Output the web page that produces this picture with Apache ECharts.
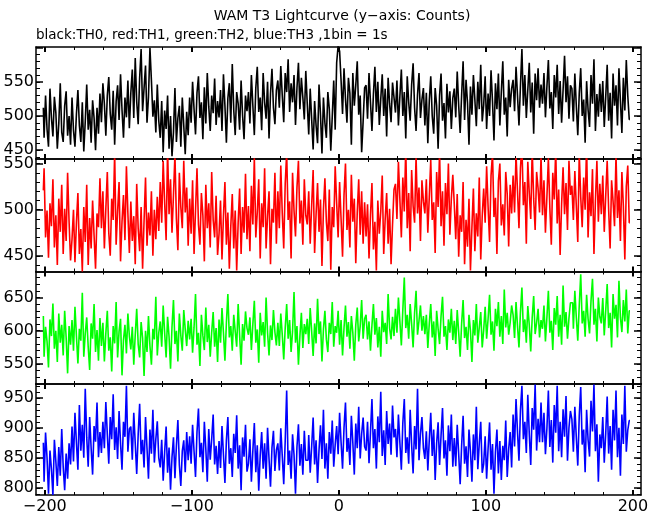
<!DOCTYPE html>
<html><head><meta charset="utf-8">
<script src="https://cdn.jsdelivr.net/npm/echarts@6/dist/echarts.min.js"></script>
<style>html,body{margin:0;padding:0;background:#fff}#c{width:660px;height:515px}</style>
</head><body><div id="c"></div>
<script>
// time bins: 1 bin = 1 s
const binStart = -201;
const binSize = 1;

// TH0 (black) counts per bin
const th0 = [
512,468,530,481,455,540,497,470,528,505,452,489,548,476,462,515,536,471,500,458,
527,479,455,503,538,486,462,520,448,492,546,480,509,461,523,497,450,512,474,533,
491,548,518,471,530,557,503,480,537,458,521,545,494,561,509,468,527,498,552,482,
534,568,497,585,521,488,556,598,507,541,574,490,528,600,552,499,523,476,546,493,
468,522,447,508,481,530,452,500,441,476,541,462,497,515,455,527,486,444,506,472,
527,490,550,510,473,534,558,497,520,466,542,489,563,514,478,530,504,555,487,522,
498,538,478,561,515,461,526,548,490,576,509,472,535,518,480,552,501,466,530,507,
535,489,560,515,472,541,572,506,527,479,563,520,496,550,467,533,569,512,488,538,
552,512,573,530,491,563,535,583,506,548,520,560,487,541,578,510,556,527,495,566,
518,473,540,495,451,522,486,460,546,502,445,527,490,468,535,510,449,499,552,480,
578,603,595,552,503,570,525,490,556,533,458,563,515,545,580,502,530,447,492,541,
545,496,563,520,478,532,572,506,550,487,525,561,500,540,470,556,518,491,549,527,
505,552,486,529,568,500,535,467,558,520,493,546,577,512,478,531,563,497,524,541,
486,534,460,522,558,500,474,541,515,452,530,562,493,519,467,547,505,536,481,526,
540,498,565,515,475,531,580,494,553,519,458,543,502,560,524,485,550,510,575,492,
516,558,481,533,500,567,521,464,548,510,562,486,535,580,502,527,470,553,513,540,
553,507,572,530,486,544,598,515,560,497,538,578,505,549,474,562,523,570,512,546,
518,563,498,543,582,511,535,481,560,527,575,503,551,490,538,588,520,558,496,545,
540,492,562,515,472,533,570,500,524,461,551,509,484,560,518,583,478,532,499,547,
506,551,484,528,575,493,534,467,562,515,545,486,570,522,475,556,508,582,530,495
];

// TH1 (red) counts per bin
const th1 = [
521,545,470,499,448,507,482,533,459,494,440,512,476,527,452,501,466,540,487,445,
468,500,443,486,518,452,479,433,503,465,527,440,491,458,510,472,436,496,481,534,
480,520,458,501,541,475,450,512,489,562,462,498,530,444,487,516,467,547,496,453,
509,466,493,441,528,480,455,503,436,488,535,461,497,472,520,450,500,468,514,477,
530,486,553,508,467,566,495,533,475,516,560,490,456,540,503,480,553,497,524,461,
512,474,532,452,499,545,484,462,518,494,444,527,480,507,459,541,489,470,515,451,
474,510,446,493,530,462,497,436,482,517,458,499,434,486,523,452,503,475,539,468,
504,455,526,484,557,470,497,533,447,507,481,545,458,493,520,441,501,486,540,463,
520,480,548,496,458,528,562,489,509,447,540,499,471,524,553,485,510,462,533,494,
484,520,463,505,543,453,495,529,476,511,439,500,534,487,466,522,435,503,481,547,
507,470,530,490,449,516,550,478,500,459,538,487,512,442,497,533,473,520,463,508,
471,506,447,494,529,457,487,434,510,474,498,537,452,490,518,463,501,441,484,522,
528,490,552,511,470,535,498,568,480,518,455,543,504,486,558,496,524,466,532,509,
496,533,475,514,554,489,508,453,541,503,563,482,520,461,529,495,550,473,512,538,
506,468,517,449,494,476,530,441,489,460,512,434,481,523,455,496,471,535,446,493,
523,486,547,503,465,537,561,492,513,452,531,550,483,506,472,541,517,460,527,496,
537,497,560,520,480,545,570,505,530,463,552,518,490,565,512,478,541,523,497,558,
494,532,475,514,556,502,462,540,511,566,485,522,451,506,546,495,529,478,553,516,
526,489,542,504,465,561,514,481,535,500,572,470,519,493,544,452,510,553,487,528,
495,537,476,515,553,500,458,532,509,482,560,491,521,466,541,504,446,525,548,486
];

// TH2 (green) counts per bin
const th2 = [
622,561,606,584,545,617,592,641,573,600,553,626,582,609,563,630,590,536,607,579,
616,570,636,592,551,603,585,657,561,596,620,576,541,611,588,640,568,601,555,619,
577,612,554,596,630,570,590,539,607,581,643,560,599,618,533,586,609,566,626,592,
572,606,549,594,633,580,560,613,589,532,600,568,622,577,549,603,587,651,563,597,
614,576,638,597,560,621,591,543,606,646,580,600,554,626,593,570,631,602,577,615,
587,618,567,605,655,579,597,547,624,593,571,635,583,609,561,598,628,576,604,553,
617,582,634,597,555,612,655,590,607,570,624,599,576,640,593,549,610,585,629,604,
594,620,571,610,645,582,602,552,627,593,613,576,650,597,563,608,586,631,598,578,
612,577,626,594,557,604,640,588,616,568,599,658,582,607,549,592,627,574,610,595,
618,580,634,599,562,611,581,648,595,614,554,602,630,587,568,612,595,643,576,607,
597,630,579,616,563,604,638,591,613,573,622,597,555,609,635,584,607,646,588,618,
624,587,614,570,608,640,594,619,575,606,561,630,598,612,580,655,604,587,621,592,
633,597,650,614,578,631,680,604,624,588,640,610,575,627,660,594,615,638,600,622,
595,624,574,611,640,590,614,562,630,603,580,622,651,591,607,571,617,597,633,586,
615,580,631,597,561,611,646,589,606,571,624,600,553,616,593,640,582,605,628,575,
601,636,588,618,654,594,614,570,633,607,643,591,622,580,662,605,627,594,612,638,
624,589,643,607,575,628,665,598,617,582,637,609,569,620,652,595,612,633,590,616,
603,638,584,620,660,597,615,571,634,609,652,591,624,579,668,606,628,588,619,642,
642,603,660,620,585,638,685,611,630,591,654,618,596,645,678,609,633,584,650,621,
611,649,593,630,670,604,627,575,655,618,639,590,675,620,598,646,614,662,596,630
];

// TH3 (blue) counts per bin
const th3 = [
875,810,892,850,790,862,831,788,880,844,803,868,820,898,835,796,857,815,874,839,
902,844,925,875,830,938,862,905,850,965,884,835,918,866,822,903,877,942,851,893,
858,910,866,943,889,840,918,881,956,863,901,848,928,874,830,910,885,970,860,898,
902,847,925,874,823,889,940,856,880,834,918,866,815,897,857,930,842,881,911,850,
834,880,812,859,902,825,867,797,851,884,816,870,913,838,803,861,879,826,893,846,
886,840,905,861,818,893,932,851,875,826,910,865,810,898,847,881,922,839,870,823,
878,833,903,855,808,879,918,840,866,818,890,858,921,832,871,796,884,852,905,827,
840,881,810,862,908,826,871,795,854,893,832,874,815,900,848,802,867,895,828,863,
874,829,899,853,806,878,962,838,862,815,889,855,790,868,906,837,873,822,895,846,
846,888,825,869,917,839,879,808,863,904,848,930,832,874,815,893,857,912,835,872,
903,856,925,876,832,900,942,860,883,838,920,875,822,907,866,935,849,890,917,869,
862,910,841,892,948,866,898,832,919,876,960,853,896,838,928,873,907,855,937,884,
898,851,922,875,830,908,948,858,884,840,930,871,824,903,864,965,846,890,918,866,
848,894,829,880,925,853,897,813,874,909,838,887,933,849,879,820,904,861,922,835,
883,836,905,856,806,871,920,840,869,818,897,860,810,889,846,935,831,874,910,825,
840,886,815,866,909,830,873,790,860,897,824,878,813,870,846,912,818,864,893,834,
922,869,948,893,845,929,970,881,910,858,955,890,838,933,897,972,862,915,876,942,
876,925,856,899,962,868,913,842,938,892,970,861,910,851,931,885,953,845,900,928,
914,860,935,884,837,920,968,872,897,826,930,880,852,945,894,972,861,906,810,889,
866,918,842,890,952,857,903,830,930,879,962,851,900,820,922,873,970,860,896,912
];

// tick labels
const xTickLabels = [-200, -100, 0, 100, 200];
const yTickLabels0 = [450, 500, 550];
const yTickLabels1 = [450, 500, 550];
const yTickLabels2 = [550, 600, 650];
const yTickLabels3 = [800, 850, 900, 950];

const titleText = 'WAM T3 Lightcurve (y\u2212axis: Counts)';
const subText = 'black:TH0, red:TH1, green:TH2, blue:TH3 ,1bin = 1s';

// ---- layout / styling ----
const FONT = 'DejaVu Sans';
const X_MIN = -206, X_MAX = 205.5;
const panels = [
  { data: th0, color: '#000000', range: [437, 601], labels: yTickLabels0, top: 47, height: 112 },
  { data: th1, color: '#ff0000', range: [433, 555], labels: yTickLabels1, top: 159, height: 112.5 },
  { data: th2, color: '#00ff00', range: [520, 689], labels: yTickLabels2, top: 271.5, height: 112.5 },
  { data: th3, color: '#0000ff', range: [788, 973], labels: yTickLabels3, top: 384, height: 112 }
];
function stepValues(lo, hi, step) {
  const out = [];
  for (let v = Math.ceil(lo / step) * step; v <= hi; v += step) out.push(v);
  return out;
}
const xMajor = stepValues(X_MIN, X_MAX, 100);
const xMinor = stepValues(X_MIN, X_MAX, 20);
const minus = v => String(v).replace('-', '\u2212');

const grids = [], xAxes = [], yAxes = [], series = [];
panels.forEach((p, i) => {
  grids.push({ left: 36, right: 19, top: p.top, height: p.height, containLabel: false });
  const xBase = {
    gridIndex: i, type: 'value', min: X_MIN, max: X_MAX,
    splitLine: { show: false }, axisLabel: { show: false },
    axisLine: { show: false, onZero: false }, axisTick: { show: false }
  };
  const axisLineStyle = { show: true, onZero: false, lineStyle: { color: '#000', width: 1.5 } };
  xAxes.push(Object.assign({}, xBase, {
    position: 'bottom', axisLine: axisLineStyle,
    axisTick: { show: true, inside: true, length: 5, lineStyle: { color: '#000', width: 2 }, customValues: xMajor },
    axisLabel: { show: i === 3, customValues: xTickLabels, formatter: minus, color: '#000',
      fontFamily: FONT, fontSize: 16, margin: 4 }
  }));
  xAxes.push(Object.assign({}, xBase, {
    position: 'bottom',
    axisTick: { show: true, inside: true, length: 3, lineStyle: { color: '#000', width: 1 }, customValues: xMinor }
  }));
  xAxes.push(Object.assign({}, xBase, {
    position: 'top', axisLine: axisLineStyle,
    axisTick: { show: true, inside: true, length: 5, lineStyle: { color: '#000', width: 2 }, customValues: xMajor }
  }));
  xAxes.push(Object.assign({}, xBase, {
    position: 'top',
    axisTick: { show: true, inside: true, length: 3, lineStyle: { color: '#000', width: 1 }, customValues: xMinor }
  }));
  const [lo, hi] = p.range;
  const yMajor = stepValues(lo, hi, 50);
  const yMinor = stepValues(lo, hi, 10);
  const yBase = {
    gridIndex: i, type: 'value', min: lo, max: hi,
    splitLine: { show: false }, axisLabel: { show: false },
    axisLine: { show: false, onZero: false }, axisTick: { show: false }
  };
  yAxes.push(Object.assign({}, yBase, {
    position: 'left', axisLine: axisLineStyle,
    axisTick: { show: true, inside: true, length: 7, lineStyle: { color: '#000', width: 1.5 }, customValues: yMajor },
    axisLabel: { show: true, customValues: p.labels, color: '#000', fontFamily: FONT, fontSize: 16, margin: 2 }
  }));
  yAxes.push(Object.assign({}, yBase, {
    position: 'left',
    axisTick: { show: true, inside: true, length: 4, lineStyle: { color: '#000', width: 1 }, customValues: yMinor }
  }));
  yAxes.push(Object.assign({}, yBase, {
    position: 'right', axisLine: axisLineStyle,
    axisTick: { show: true, inside: true, length: 7, lineStyle: { color: '#000', width: 1.5 }, customValues: yMajor }
  }));
  yAxes.push(Object.assign({}, yBase, {
    position: 'right',
    axisTick: { show: true, inside: true, length: 4, lineStyle: { color: '#000', width: 1 }, customValues: yMinor }
  }));
  series.push({
    type: 'line', xAxisIndex: i * 4, yAxisIndex: i * 4,
    data: p.data.map((v, k) => [binStart + k * binSize, v]),
    step: 'middle', symbol: 'none', showSymbol: false, clip: true,
    lineStyle: { color: p.color, width: 1.6 }, itemStyle: { color: p.color },
    emphasis: { disabled: true }
  });
});

const chart = echarts.init(document.getElementById('c'), null, { renderer: 'canvas' });
chart.setOption({
  backgroundColor: '#ffffff',
  animation: false,
  title: [
    { text: titleText, left: 342, top: 9, textAlign: 'center', padding: 0,
      textStyle: { fontFamily: FONT, fontSize: 14, fontWeight: 'normal', color: '#000' } },
    { text: subText, left: 36, top: 28, padding: 0,
      textStyle: { fontFamily: FONT, fontSize: 13.5, fontWeight: 'normal', color: '#000' } }
  ],
  grid: grids, xAxis: xAxes, yAxis: yAxes, series: series
});
</script>
</body></html>
